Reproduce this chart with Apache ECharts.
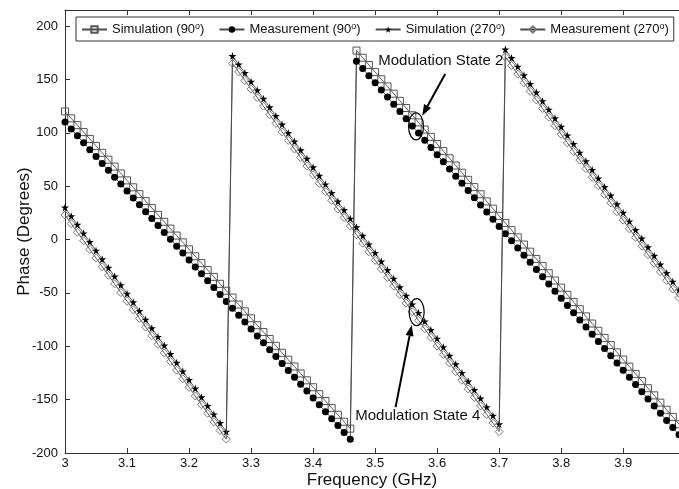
<!DOCTYPE html>
<html>
<head>
<meta charset="utf-8">
<script src="https://cdn.jsdelivr.net/npm/echarts@6/dist/echarts.min.js"></script>
<style>
html, body { margin: 0; padding: 0; background: #fff; }
#chart { width: 679px; height: 489px; }
</style>
</head>
<body>
<div id="chart"></div>
<script>
// Frequency sweep (GHz)
const frequency = [
  3.00, 3.01, 3.02, 3.03, 3.04, 3.05, 3.06, 3.07, 3.08, 3.09,
  3.10, 3.11, 3.12, 3.13, 3.14, 3.15, 3.16, 3.17, 3.18, 3.19,
  3.20, 3.21, 3.22, 3.23, 3.24, 3.25, 3.26, 3.27, 3.28, 3.29,
  3.30, 3.31, 3.32, 3.33, 3.34, 3.35, 3.36, 3.37, 3.38, 3.39,
  3.40, 3.41, 3.42, 3.43, 3.44, 3.45, 3.46, 3.47, 3.48, 3.49,
  3.50, 3.51, 3.52, 3.53, 3.54, 3.55, 3.56, 3.57, 3.58, 3.59,
  3.60, 3.61, 3.62, 3.63, 3.64, 3.65, 3.66, 3.67, 3.68, 3.69,
  3.70, 3.71, 3.72, 3.73, 3.74, 3.75, 3.76, 3.77, 3.78, 3.79,
  3.80, 3.81, 3.82, 3.83, 3.84, 3.85, 3.86, 3.87, 3.88, 3.89,
  3.90, 3.91, 3.92, 3.93, 3.94, 3.95, 3.96, 3.97, 3.98, 3.99
];

// Phase (degrees), modulation state 90°
const simulation90 = [
  120.0, 113.5, 107.1, 100.6, 94.2, 87.7, 81.2, 74.8, 68.3, 61.9,
  55.4, 48.9, 42.5, 36.0, 29.6, 23.1, 16.6, 10.2, 3.7, -2.7,
  -9.2, -15.7, -22.1, -28.6, -35.0, -41.5, -48.0, -54.4, -60.9, -67.3,
  -73.8, -80.3, -86.7, -93.2, -99.6, -106.1, -112.6, -119.0, -125.5, -131.9,
  -138.4, -144.9, -151.3, -157.8, -164.2, -170.7, -177.2, 177.0, 170.3, 163.5,
  156.8, 150.1, 143.4, 136.6, 129.9, 123.2, 116.4, 109.7, 103.0, 96.2,
  89.5, 82.8, 76.1, 69.3, 62.6, 55.9, 49.1, 42.4, 35.7, 28.9,
  22.2, 15.5, 8.8, 2.0, -4.7, -11.4, -18.2, -24.9, -31.6, -38.4,
  -45.1, -51.8, -58.6, -65.3, -72.0, -78.7, -85.5, -92.2, -98.9, -105.7,
  -112.4, -119.1, -125.9, -132.6, -139.3, -146.0, -152.8, -159.5, -166.2, -173.0
];
const measurement90 = [
  110.0, 103.5, 97.1, 90.6, 84.2, 77.7, 71.2, 64.8, 58.3, 51.9,
  45.4, 38.9, 32.5, 26.0, 19.6, 13.1, 6.6, 0.2, -6.3, -12.7,
  -19.2, -25.7, -32.1, -38.6, -45.0, -51.5, -58.0, -64.4, -70.9, -77.3,
  -83.8, -90.3, -96.7, -103.2, -109.6, -116.1, -122.6, -129.0, -135.5, -141.9,
  -148.4, -154.9, -161.3, -167.8, -174.2, -180.7, -187.2, 167.0, 160.3, 153.5,
  146.8, 140.1, 133.4, 126.6, 119.9, 113.2, 106.4, 99.7, 93.0, 86.2,
  79.5, 72.8, 66.1, 59.3, 52.6, 45.9, 39.1, 32.4, 25.7, 18.9,
  12.2, 5.5, -1.2, -8.0, -14.7, -21.4, -28.2, -34.9, -41.6, -48.4,
  -55.1, -61.8, -68.6, -75.3, -82.0, -88.7, -95.5, -102.2, -108.9, -115.7,
  -122.4, -129.1, -135.9, -142.6, -149.3, -156.0, -162.8, -169.5, -176.2, -183.0
];

// Phase (degrees), modulation state 270°
const simulation270 = [
  30.0, 21.9, 13.8, 5.8, -2.3, -10.4, -18.5, -26.5, -34.6, -42.7,
  -50.8, -58.8, -66.9, -75.0, -83.1, -91.2, -99.2, -107.3, -115.4, -123.5,
  -131.5, -139.6, -147.7, -155.8, -163.8, -171.9, -180.0, 172.0, 164.0, 156.0,
  147.9, 139.9, 131.9, 123.9, 115.8, 107.8, 99.8, 91.8, 83.7, 75.7,
  67.7, 59.7, 51.7, 43.6, 35.6, 27.6, 19.6, 11.5, 3.5, -4.5,
  -12.5, -20.6, -28.6, -36.6, -44.6, -52.6, -60.7, -68.7, -76.7, -84.7,
  -92.8, -100.8, -108.8, -116.8, -124.9, -132.9, -140.9, -148.9, -157.0, -165.0,
  -173.0, 178.0, 170.0, 161.9, 153.9, 145.8, 137.8, 129.7, 121.7, 113.6,
  105.6, 97.5, 89.5, 81.4, 73.4, 65.3, 57.3, 49.2, 41.2, 33.1,
  25.1, 17.0, 9.0, 0.9, -7.2, -15.2, -23.3, -31.3, -39.4, -47.4
];
const measurement270 = [
  23.0, 14.9, 6.8, -1.2, -9.3, -17.4, -25.5, -33.5, -41.6, -49.7,
  -57.8, -65.8, -73.9, -82.0, -90.1, -98.2, -106.2, -114.3, -122.4, -130.5,
  -138.5, -146.6, -154.7, -162.8, -170.8, -178.9, -187.0, 165.0, 157.0, 149.0,
  140.9, 132.9, 124.9, 116.9, 108.8, 100.8, 92.8, 84.8, 76.7, 68.7,
  60.7, 52.7, 44.7, 36.6, 28.6, 20.6, 12.6, 4.5, -3.5, -11.5,
  -19.5, -27.6, -35.6, -43.6, -51.6, -59.6, -67.7, -75.7, -83.7, -91.7,
  -99.8, -107.8, -115.8, -123.8, -131.9, -139.9, -147.9, -155.9, -164.0, -172.0,
  -180.0, 171.0, 163.0, 154.9, 146.9, 138.8, 130.8, 122.7, 114.7, 106.6,
  98.6, 90.5, 82.5, 74.4, 66.4, 58.3, 50.3, 42.2, 34.2, 26.1,
  18.1, 10.0, 2.0, -6.1, -14.2, -22.2, -30.3, -38.3, -46.4, -54.4
];

const seriesNames = ['Simulation (90°)', 'Measurement (90°)', 'Simulation (270°)', 'Measurement (270°)'];
const xTickLabels = ['3', '3.1', '3.2', '3.3', '3.4', '3.5', '3.6', '3.7', '3.8', '3.9'];
const yTickLabels = ['-200', '-150', '-100', '-50', '0', '50', '100', '150', '200'];
const annotationLabels = ['Modulation State 2', 'Modulation State 4'];

const FONT = '"Liberation Sans", Arial, sans-serif';
const STAR = 'path://M50,0 L61,35 L98,35 L68,57 L79,91 L50,70 L21,91 L32,57 L2,35 L39,35 Z';

function pairs(ys) {
  return frequency.map((f, i) => [f, ys[i]]);
}

function tickFormatter(list) {
  return function (v) {
    const s = String(Math.round(v * 1000) / 1000);
    return list.indexOf(s) >= 0 ? s : '';
  };
}

const lineStyle = { color: '#4a4a4a', width: 0.9 };

const chart = echarts.init(document.getElementById('chart'), null, { renderer: 'canvas' });

const option = {
  animation: false,
  backgroundColor: '#fff',
  grid: { left: 65, right: 0, top: 10, bottom: 36, containLabel: false, outerBoundsMode: 'none' },
  legend: {
    left: 76, top: 17,
    orient: 'horizontal',
    padding: [5, 5],
    itemGap: 14,
    itemWidth: 25,
    itemHeight: 8,
    borderColor: '#333', borderWidth: 1,
    backgroundColor: '#fff',
    data: seriesNames,
    textStyle: { fontFamily: FONT, fontSize: 13, color: '#111',
      rich: { sup: { fontFamily: FONT, fontSize: 9, verticalAlign: 'top', lineHeight: 13, color: '#111' },
              n: { fontFamily: FONT, fontSize: 13, lineHeight: 15, color: '#111' } } },
    formatter: function (name) {
      const parts = name.split('°');
      return '{n|' + parts[0] + '}{sup|o}{n|' + parts[1] + '}';
    }
  },
  xAxis: [{
    type: 'value', min: 3, max: 3.99, interval: 0.1,
    name: 'Frequency (GHz)', nameLocation: 'middle', nameGap: 19, nameMoveOverlap: false,
    nameTextStyle: { fontFamily: FONT, fontSize: 17, color: '#111' },
    axisLine: { show: true, onZero: false, lineStyle: { color: '#333', width: 1 } },
    axisTick: { show: true, inside: true, length: 5, lineStyle: { color: '#333' } },
    axisLabel: { fontFamily: FONT, fontSize: 13, color: '#111', margin: 4,
      showMaxLabel: false, formatter: tickFormatter(xTickLabels) },
    splitLine: { show: false }
  }, {
    type: 'value', position: 'top', min: 3, max: 3.99, interval: 0.1,
    axisLine: { show: true, onZero: false, lineStyle: { color: '#333', width: 1 } },
    axisTick: { show: true, inside: true, length: 5, lineStyle: { color: '#333' } },
    axisLabel: { show: false },
    splitLine: { show: false }
  }],
  yAxis: [{
    type: 'value', min: -200, max: 215, interval: 50,
    name: 'Phase (Degrees)', nameLocation: 'middle', nameGap: 32, nameMoveOverlap: false,
    nameTextStyle: { fontFamily: FONT, fontSize: 17, color: '#111' },
    axisLine: { show: true, onZero: false, lineStyle: { color: '#333', width: 1 } },
    axisTick: { show: true, inside: true, length: 5, lineStyle: { color: '#333' } },
    axisLabel: { fontFamily: FONT, fontSize: 13, color: '#111', margin: 7,
      showMaxLabel: false, formatter: tickFormatter(yTickLabels) },
    splitLine: { show: false }
  }],
  series: [
    {
      name: seriesNames[0], type: 'line', data: pairs(simulation90),
      symbol: 'rect', symbolSize: 7,
      itemStyle: { color: 'rgba(255,255,255,0)', borderColor: '#555', borderWidth: 1 },
      lineStyle: lineStyle, z: 2
    },
    {
      name: seriesNames[1], type: 'line', data: pairs(measurement90),
      symbol: 'circle', symbolSize: 7,
      itemStyle: { color: '#000', borderColor: '#000', borderWidth: 0 },
      lineStyle: lineStyle, z: 3
    },
    {
      name: seriesNames[2], type: 'line', data: pairs(simulation270),
      symbol: STAR, symbolSize: 8,
      itemStyle: { color: '#000', borderColor: '#000', borderWidth: 0 },
      lineStyle: lineStyle, z: 4
    },
    {
      name: seriesNames[3], type: 'line', data: pairs(measurement270),
      symbol: 'diamond', symbolSize: 8,
      itemStyle: { color: 'rgba(255,255,255,0)', borderColor: '#777', borderWidth: 1 },
      lineStyle: lineStyle, z: 5
    }
  ]
};

chart.setOption(option);

// Callouts: label, arrow and ring around the highlighted markers (data coordinates)
const callouts = [
  { label: annotationLabels[0], text: [3.505, 167], tail: [3.613, 155], tip: [3.576, 116], ring: [3.566, 106] },
  { label: annotationLabels[1], text: [3.468, -165], tail: [3.533, -157], tip: [3.559, -80], ring: [3.567, -68] }
];

function px(pt) {
  return chart.convertToPixel({ xAxisIndex: 0, yAxisIndex: 0 }, pt);
}

const graphics = [];
callouts.forEach(function (c) {
  const t = px(c.text), a = px(c.tail), b = px(c.tip), r = px(c.ring);
  const dx = b[0] - a[0], dy = b[1] - a[1];
  const len = Math.sqrt(dx * dx + dy * dy);
  const ux = dx / len, uy = dy / len;
  const headLen = 11, headHalf = 4;
  const base = [b[0] - ux * headLen, b[1] - uy * headLen];
  graphics.push({
    type: 'text', z: 50,
    style: { text: c.label, x: t[0], y: t[1], font: '15px ' + FONT, fill: '#111',
      verticalAlign: 'middle', align: 'left' }
  });
  graphics.push({
    type: 'line', z: 50,
    shape: { x1: a[0], y1: a[1], x2: base[0], y2: base[1] },
    style: { stroke: '#000', lineWidth: 2 }
  });
  graphics.push({
    type: 'polygon', z: 50,
    shape: { points: [
      [b[0], b[1]],
      [base[0] - uy * headHalf, base[1] + ux * headHalf],
      [base[0] + uy * headHalf, base[1] - ux * headHalf]
    ] },
    style: { fill: '#000' }
  });
  graphics.push({
    type: 'ellipse', z: 50,
    shape: { cx: r[0], cy: r[1], rx: 7.5, ry: 13.5 },
    style: { fill: 'none', stroke: '#000', lineWidth: 1.2 }
  });
});

chart.setOption({ graphic: graphics });
</script>
</body>
</html>
